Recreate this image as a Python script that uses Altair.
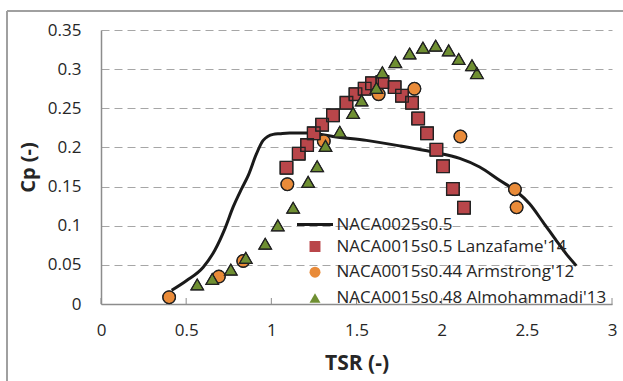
import altair as alt
import pandas as pd

line_name = "NACA0025s0.5"
sq_name = "NACA0015s0.5 Lanzafame'14"
ci_name = "NACA0015s0.44 Armstrong'12"
tr_name = "NACA0015s0.48 Almohammadi'13"

line_tsr = [0.415, 0.503, 0.60, 0.669, 0.727, 0.776, 0.825, 0.864, 0.913, 0.952, 1.011,
            1.05, 1.108, 1.206, 1.284, 1.362, 1.558, 1.754, 1.949, 2.106, 2.223, 2.34,
            2.438, 2.516, 2.594, 2.673, 2.731, 2.79]
line_cp = [0.0175, 0.030, 0.047, 0.069, 0.096, 0.124, 0.147, 0.164, 0.192, 0.209, 0.2167,
           0.2175, 0.2184, 0.2184, 0.2167, 0.214, 0.209, 0.202, 0.194, 0.186, 0.175, 0.158,
           0.144, 0.128, 0.105, 0.081, 0.064, 0.049]

sq_tsr = [1.089, 1.161, 1.21, 1.249, 1.298, 1.362, 1.441, 1.494, 1.548, 1.591, 1.652,
          1.724, 1.767, 1.826, 1.862, 1.914, 1.969, 2.008, 2.066, 2.131]
sq_cp = [0.174, 0.192, 0.203, 0.218, 0.229, 0.241, 0.257, 0.268, 0.275, 0.282, 0.2835,
         0.277, 0.266, 0.257, 0.237, 0.218, 0.197, 0.176, 0.147, 0.123]

ci_tsr = [0.40, 0.692, 0.835, 1.094, 1.308, 1.63, 1.84, 2.11, 2.43, 2.44]
ci_cp = [0.0086, 0.035, 0.055, 0.153, 0.208, 0.268, 0.275, 0.214, 0.1465, 0.1235]

tr_tsr = [0.565, 0.653, 0.762, 0.85, 0.964, 1.038, 1.128, 1.216, 1.269, 1.318, 1.402,
          1.48, 1.53, 1.617, 1.652, 1.728, 1.812, 1.89, 1.965, 2.041, 2.10, 2.178, 2.207]
tr_cp = [0.025, 0.032, 0.044, 0.059, 0.077, 0.1005, 0.123, 0.156, 0.176, 0.202, 0.220,
         0.244, 0.260, 0.276, 0.296, 0.309, 0.320, 0.3275, 0.330, 0.324, 0.313, 0.305, 0.295]

x_ticks = [0, 0.5, 1, 1.5, 2, 2.5, 3]
y_ticks = [0, 0.05, 0.1, 0.15, 0.2, 0.25, 0.3, 0.35]

pt_names = [sq_name, ci_name, tr_name]
pt_colors = ["#B9464A", "#E98B39", "#6F8F32"]
pt_shapes = ["square", "circle", "triangle-up"]

line_df = pd.DataFrame({"tsr": line_tsr, "cp": line_cp, "series": line_name})
ci_df = pd.DataFrame({"tsr": ci_tsr, "cp": ci_cp, "series": ci_name})
sq_df = pd.DataFrame({"tsr": sq_tsr, "cp": sq_cp, "series": sq_name})
tr_df = pd.DataFrame({"tsr": tr_tsr, "cp": tr_cp, "series": tr_name})
tick_df = pd.DataFrame({"tsr": x_ticks})

FONT = "Open Sans"
TXT = "#262626"
EDGE = "#222222"
W, H = 511, 274

xscale = alt.Scale(domain=[0, 3], nice=False)
yscale = alt.Scale(domain=[0, 0.35], nice=False)

xaxis = alt.Axis(values=x_ticks, format="", title="TSR (-)", grid=False, ticks=False, tickSize=0,
                 labelFont=FONT, labelFontSize=17, labelFontWeight="normal", labelColor=TXT,
                 labelPadding=18, labelFlush=False,
                 titleFont=FONT, titleFontSize=21, titleFontWeight="bold", titleColor=TXT,
                 titleY=59, titleBaseline="middle",
                 domainColor="#8c8c8c", domainWidth=1.5)
yaxis = alt.Axis(values=y_ticks, format="", title="Cp (-)", grid=True, gridDash=[8, 5],
                 gridColor="#a6a6a6", gridWidth=1, ticks=False, tickSize=0,
                 labelFont=FONT, labelFontSize=17, labelFontWeight="normal", labelColor=TXT,
                 labelPadding=20, labelFlush=False,
                 titleFont=FONT, titleFontSize=20, titleFontWeight="bold", titleColor=TXT,
                 titleX=-73, titleBaseline="middle",
                 domainColor="#8c8c8c", domainWidth=1.5)

X = alt.X("tsr:Q", scale=xscale, axis=xaxis, title="TSR (-)")
Y = alt.Y("cp:Q", scale=yscale, axis=yaxis, title="Cp (-)")

line_legend = alt.Legend(
    title=None, orient="none", legendX=194.5, legendY=175,
    labelFont=FONT, labelFontSize=17, labelColor=TXT, labelLimit=400,
    symbolType="stroke", symbolSize=1296, symbolStrokeWidth=3, labelOffset=2,
    padding=0, symbolOpacity=1,
)
pts_legend = alt.Legend(
    title=None, orient="none", legendX=205.5, legendY=208,
    labelFont=FONT, labelFontSize=17, labelColor=TXT, labelLimit=400,
    symbolSize=120, labelOffset=13, rowPadding=7.7, padding=0,
    symbolStrokeColor=EDGE, symbolStrokeWidth=1, symbolOpacity=1,
)

fill_enc = alt.Fill("series:N", scale=alt.Scale(domain=pt_names, range=pt_colors),
                    legend=pts_legend)
shape_enc = alt.Shape("series:N", scale=alt.Scale(domain=pt_names, range=pt_shapes),
                      legend=pts_legend)

line = alt.Chart(line_df).mark_line(strokeWidth=3, interpolate="monotone").encode(
    x=X, y=Y,
    stroke=alt.Stroke("series:N", scale=alt.Scale(domain=[line_name], range=["#1a1a1a"]),
                      legend=line_legend),
)

ticks = alt.Chart(tick_df).mark_rule(color="#8c8c8c", strokeWidth=1).encode(
    x=X,
    y=alt.value(H),
    y2=alt.value(H - 6),
)


def marker_layers(df, shape):
    fill_layer = alt.Chart(df).mark_point(filled=True, size=160, opacity=1,
                                          stroke=EDGE, strokeWidth=1).encode(
        x=X, y=Y, fill=fill_enc, shape=shape_enc)
    edge_layer = alt.Chart(df).mark_point(filled=False, shape=shape, size=160, opacity=1,
                                          color=EDGE, strokeWidth=1.3)\
        .encode(x=X, y=Y)
    return [fill_layer, edge_layer]


frame_top = alt.Chart(tick_df).mark_rule(color="#a0a0a0", strokeWidth=1.5).encode(
    x=alt.value(-94), x2=alt.value(530), y=alt.value(-19))
frame_left = alt.Chart(tick_df).mark_rule(color="#a0a0a0", strokeWidth=1.5).encode(
    x=alt.value(-94), y=alt.value(-19), y2=alt.value(360))

layers = [frame_top, frame_left, line, ticks]
layers += marker_layers(ci_df, "circle")
layers += marker_layers(sq_df, "square")
layers += marker_layers(tr_df, "triangle-up")

chart = alt.layer(*layers).properties(
    width=W, height=H,
    autosize=alt.AutoSizeParams(type="none"),
    padding={"left": 101, "top": 30, "right": 11, "bottom": 77},
    background="white",
).configure_view(stroke=None)

chart.save("out.html", embed_options={"renderer": "svg", "actions": False})
